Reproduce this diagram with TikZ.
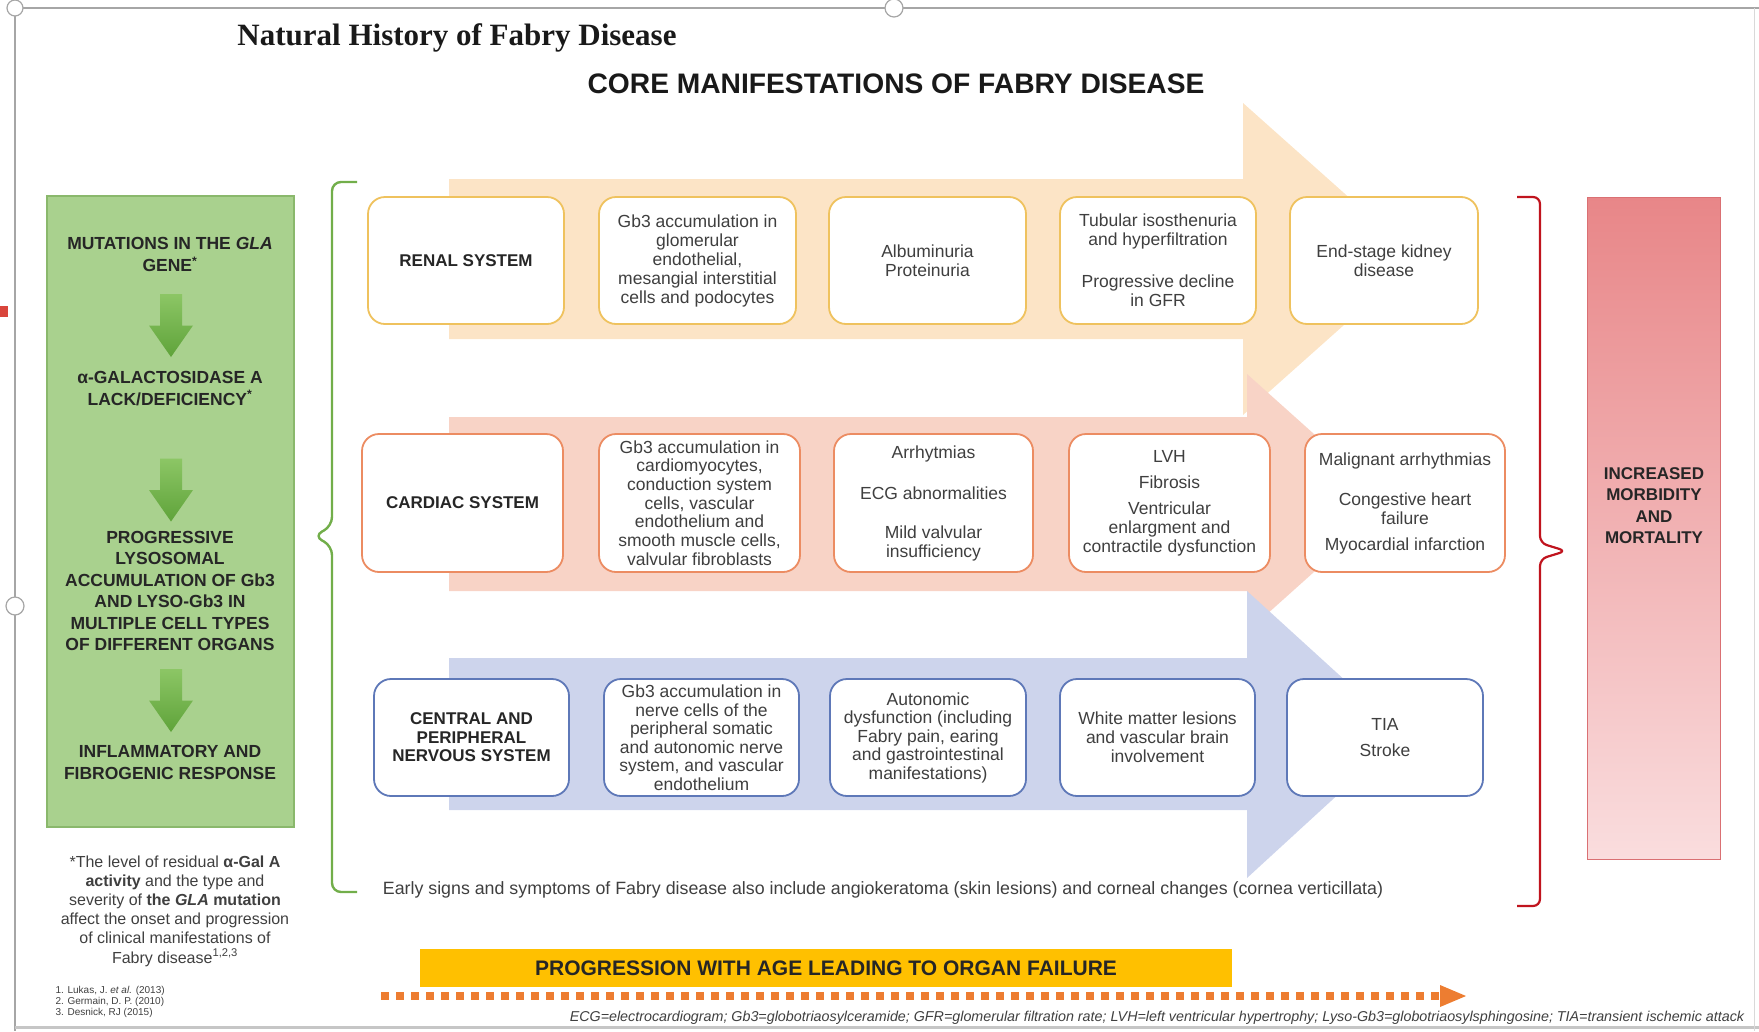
\documentclass[tikz,border=0pt]{standalone}
\usepackage{fontspec}
\setmainfont{Liberation Sans}
\newfontfamily\titlefont{Liberation Serif}
\usetikzlibrary{calc}

\definecolor{renalfill}{HTML}{FCE4C6}
\definecolor{cardfill}{HTML}{F8D3C6}
\definecolor{nervfill}{HTML}{CDD4EC}
\definecolor{renalline}{HTML}{EFC25E}
\definecolor{cardline}{HTML}{EC8C62}
\definecolor{nervline}{HTML}{5E78B8}
\definecolor{greenfill}{HTML}{A9D18E}
\definecolor{greenline}{HTML}{8AB86C}
\definecolor{garrowtop}{HTML}{8CC665}
\definecolor{garrowbot}{HTML}{5FA33A}
\definecolor{bracegreen}{HTML}{72AE4A}
\definecolor{bracered}{HTML}{C0141E}
\definecolor{redtop}{HTML}{E88688}
\definecolor{redbot}{HTML}{FADDDE}
\definecolor{redline}{HTML}{DA7073}
\definecolor{barfill}{HTML}{FFC000}
\definecolor{dotorange}{HTML}{ED7D31}
\definecolor{txt}{HTML}{3F3F3F}
\definecolor{framegray}{HTML}{A6A6A6}
\definecolor{markred}{HTML}{D9453C}

\newcommand\setfs[2]{\fontsize{#1}{#2}\selectfont}

\tikzset{
  card/.style={rounded corners=17pt, fill=white, line width=1.8pt, align=center,
    inner sep=0pt, text=txt, font=\setfs{17.5}{19}},
  renalbox/.style={card, draw=renalline, minimum height=127pt},
  cardbox/.style={card, draw=cardline, minimum height=138pt},
  nervbox/.style={card, draw=nervline, minimum height=117pt},
  syslabel/.style={font=\bfseries\setfs{17}{18.5}, text=black!85},
  gtext/.style={align=center, font=\bfseries\setfs{17.5}{21.5}, text=black!85},
  downarrow/.pic={
    \shade[top color=garrowtop, bottom color=garrowbot]
      (-11,-31.5) -- (11,-31.5) -- (11,0) -- (22,0) -- (0,31.5) -- (-22,0) -- (-11,0) -- cycle;
  },
  handle/.style={draw=framegray, fill=white, line width=1.2pt},
}

\begin{document}
\begin{tikzpicture}[x=1pt, y=-1pt]
\useasboundingbox (0,0) rectangle (1759,1031);

% page frame and selection handles
\draw[framegray, line width=1.5pt] (1759,8) -- (15,8) -- (15,1031);
\draw[gray!45, line width=3pt] (15,1027) -- (1759,1027);
\draw[gray!30, line width=1pt] (1754,8) -- (1754,1031);
\draw[handle] (15,8) circle (8);
\draw[handle] (894,8) circle (9);
\draw[handle] (15,606) circle (9);
\fill[markred] (0,306) rectangle (8,317);

% titles
\node[font=\titlefont\bfseries\setfs{31}{33}, text=black!90] (title) at (457,38) {Natural History of Fabry Disease};
\node[font=\bfseries\setfs{28.2}{30}, text=black!90] (core) at (896,84) {CORE MANIFESTATIONS OF FABRY DISEASE};

% genetic cascade
\node[draw=greenline, fill=greenfill, line width=1.2pt, minimum width=247pt, minimum height=631pt] (genebox) at (170.5,511.5) {};
\node[gtext] (g1) at (170,254.5) {MUTATIONS IN THE \textit{GLA}\\GENE\textsuperscript{*}};
\pic at (171,325.5) {downarrow};
\node[gtext] (g2) at (170,388.5) {α-GALACTOSIDASE A\\LACK/DEFICIENCY\textsuperscript{*}};
\pic at (171,490) {downarrow};
\node[gtext] (g3) at (170,591) {PROGRESSIVE\\LYSOSOMAL\\ACCUMULATION OF Gb3\\AND LYSO-Gb3 IN\\MULTIPLE CELL TYPES\\OF DIFFERENT ORGANS};
\pic at (171,700.5) {downarrow};
\node[gtext] (g4) at (170,762.5) {INFLAMMATORY AND\\FIBROGENIC RESPONSE};

% footnote and references
\node[align=center, text=txt, font=\setfs{16}{19.2}] (note) at (175,911)
  {*The level of residual \textbf{α-Gal A}\\\textbf{activity} and the type and\\severity of \textbf{the \textit{GLA} mutation}\\affect the onset and progression\\of clinical manifestations of\\Fabry disease\textsuperscript{1,2,3}};
\node[anchor=west, align=left, text=txt, font=\setfs{10}{11}] (refs) at (52,1002)
  {1. Lukas, J. \textit{et al.} (2013)\\2. Germain, D. P. (2010)\\3. Desnick, RJ (2015)};

% progression bands
\fill[renalfill] (449,179) -- (1243,179) -- (1243,103) -- (1418,259) -- (1243,415) -- (1243,339) -- (449,339) -- cycle;
\fill[cardfill] (449,417) -- (1247,417) -- (1247,374) -- (1391,503) -- (1247,632) -- (1247,591) -- (449,591) -- cycle;
\fill[nervfill] (449,658) -- (1247,658) -- (1247,591) -- (1404,734) -- (1247,878) -- (1247,810) -- (449,810) -- cycle;

% renal system
\node[renalbox, minimum width=196pt, syslabel] (r0) at (466,260.5) {RENAL SYSTEM};
\node[renalbox, minimum width=197pt] (r1) at (697.5,260.5) {Gb3 accumulation in\\glomerular\\endothelial,\\mesangial interstitial\\cells and podocytes};
\node[renalbox, minimum width=197pt] (r2) at (927.5,260.5) {Albuminuria\\Proteinuria};
\node[renalbox, minimum width=196pt] (r3) at (1158,260.5) {Tubular isosthenuria\\and hyperfiltration\\[23pt]Progressive decline\\in GFR};
\node[renalbox, minimum width=188pt] (r4) at (1384,260.5) {End-stage kidney\\disease};

% cardiac system
\node[cardbox, minimum width=201pt, syslabel] (c0) at (462.5,503) {CARDIAC SYSTEM};
\node[cardbox, minimum width=201pt, font=\setfs{17.5}{18.7}] (c1) at (699.5,503) {Gb3 accumulation in\\cardiomyocytes,\\conduction system\\cells, vascular\\endothelium and\\smooth muscle cells,\\valvular fibroblasts};
\node[cardbox, minimum width=199pt] (c2) at (933.5,503) {Arrhytmias\\[22pt]ECG abnormalities\\[20pt]Mild valvular\\insufficiency};
\node[cardbox, minimum width=201pt] (c3) at (1169.5,503) {LVH\\[7pt]Fibrosis\\[7pt]Ventricular\\enlargment and\\contractile dysfunction};
\node[cardbox, minimum width=200pt] (c4) at (1405,503) {Malignant arrhythmias\\[21pt]Congestive heart\\failure\\[7pt]Myocardial infarction};

% nervous system
\node[nervbox, minimum width=195pt, syslabel] (n0) at (471.5,737.5) {CENTRAL AND\\PERIPHERAL\\NERVOUS SYSTEM};
\node[nervbox, minimum width=195pt, font=\setfs{17.5}{18.5}] (n1) at (701.5,737.5) {Gb3 accumulation in\\nerve cells of the\\peripheral somatic\\and autonomic nerve\\system, and vascular\\endothelium};
\node[nervbox, minimum width=196pt, font=\setfs{17.5}{18.5}] (n2) at (928,737.5) {Autonomic\\dysfunction (including\\Fabry pain, earing\\and gastrointestinal\\manifestations)};
\node[nervbox, minimum width=195pt] (n3) at (1157.5,737.5) {White matter lesions\\and vascular brain\\involvement};
\node[nervbox, minimum width=196pt] (n4) at (1385,737.5) {TIA\\[7pt]Stroke};

\node[text=txt, font=\setfs{17.8}{20}] (early) at (883,890) {Early signs and symptoms of Fabry disease also include angiokeratoma (skin lesions) and corneal changes (cornea verticillata)};

% braces
\draw[bracegreen, line width=2.4pt, rounded corners=9pt] (357,182) -- (332,182) -- (332,526) -- (314,536) -- (332,546) -- (332,892) -- (357,892);
\draw[bracered, line width=2.2pt, rounded corners=7pt] (1517,197) -- (1540,197) -- (1540,543) -- (1566,551) -- (1540,559) -- (1540,906) -- (1517,906);

% outcome
\node[draw=redline, line width=1pt, top color=redtop, bottom color=redbot, minimum width=133pt, minimum height=662pt] (outbox) at (1653.5,528) {};
\node[align=center, font=\bfseries\setfs{17}{21.5}, text=black!85] (outcome) at (1654,505.5) {INCREASED\\MORBIDITY\\AND\\MORTALITY};

% age progression
\node[fill=barfill, minimum width=812pt, minimum height=38pt, inner sep=0pt, font=\bfseries\setfs{21}{22}, text=black!85] (agebar) at (826,968) {PROGRESSION WITH AGE LEADING TO ORGAN FAILURE};
\coordinate (dotstart) at (381,996);
\coordinate (dotend) at (1442,996);
\draw[dotorange, line width=8pt, dash pattern=on 8pt off 7pt] (dotstart) -- (dotend);
\fill[dotorange] (dotend) ++(-2,-11) -- ++(26,11) -- ++(-26,11) -- cycle;

\node[text=txt, font=\itshape\setfs{14.3}{15}] (abbr) at (1157,1018) {ECG=electrocardiogram; Gb3=globotriaosylceramide; GFR=glomerular filtration rate; LVH=left ventricular hypertrophy; Lyso-Gb3=globotriaosylsphingosine; TIA=transient ischemic attack};
\end{tikzpicture}
\end{document}
